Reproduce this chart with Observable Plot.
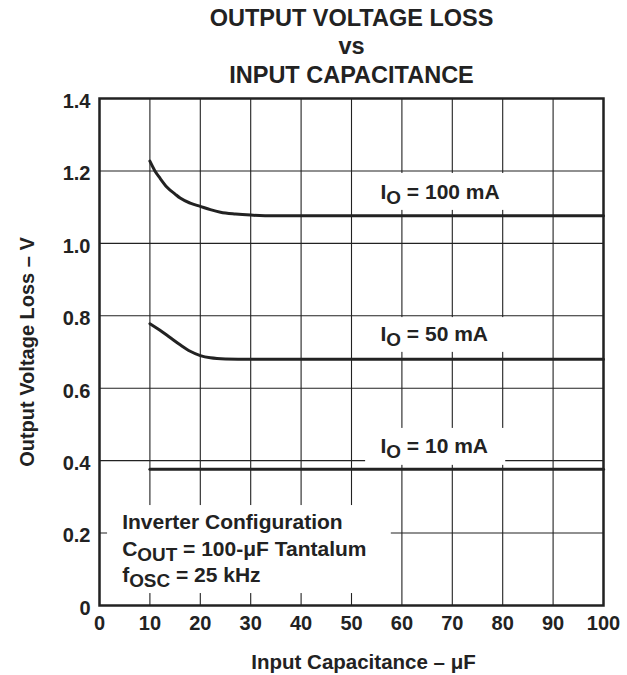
<!DOCTYPE html>
<html>
<head>
<meta charset="utf-8">
<script src="https://cdn.jsdelivr.net/npm/d3@7"></script>
<script src="https://cdn.jsdelivr.net/npm/@observablehq/plot@0.6"></script>
<style>
  html, body { margin: 0; padding: 0; background: #fff; }
  #chart svg { display: block; }
</style>
</head>
<body>
<div id="chart"></div>
<script>
// ---- Data ----
const titleLines = ["OUTPUT VOLTAGE LOSS", "vs", "INPUT CAPACITANCE"];
const xLabel = "Input Capacitance – μF";
const yLabel = "Output Voltage Loss – V";
const xTicks = [0, 10, 20, 30, 40, 50, 60, 70, 80, 90, 100];
const yTicks = [0, 0.2, 0.4, 0.6, 0.8, 1.0, 1.2, 1.4];

const cap100 = [10, 11, 12, 13.4, 15, 16, 18, 20, 22, 24, 27, 30, 35, 100];
const loss100 = [1.227, 1.200, 1.180, 1.155, 1.136, 1.125, 1.111, 1.102, 1.093, 1.086, 1.081, 1.078, 1.076, 1.076];

const cap50 = [10, 12, 14, 16, 18, 20, 22, 25, 30, 100];
const loss50 = [0.778, 0.760, 0.740, 0.720, 0.702, 0.690, 0.684, 0.681, 0.680, 0.680];

const cap10 = [10, 100];
const loss10 = [0.376, 0.376];

const seriesNames = ["100 mA", "50 mA", "10 mA"];
const curveLabels = ["I_{O} = 100 mA", "I_{O} = 50 mA", "I_{O} = 10 mA"];
const curveLabelX = [55.75, 55.75, 55.75];
const curveLabelY = [1.123, 0.730, 0.422];
// label backgrounds (data units)
const curveBoxX1 = [50.8, 50.8, 52.8];
const curveBoxX2 = [83.5, 83.5, 80.6];
const curveBoxY1 = [1.091, 0.699, 0.387];
const curveBoxY2 = [1.193, 0.795, 0.489];

const noteLines = ["Inverter Configuration", "C_{OUT} = 100-μF Tantalum", "f_{OSC} = 25 kHz"];
const noteX = 4.5;
const noteY = [0.2117, 0.138, 0.065];
const noteBox = {x1: 1.6, x2: 57.9, y1: 0.033, y2: 0.276};

// ---- Build tables ----
const curves = [
  ...cap100.map((c, i) => ({series: seriesNames[0], cap: c, loss: loss100[i]})),
  ...cap50.map((c, i) => ({series: seriesNames[1], cap: c, loss: loss50[i]})),
  ...cap10.map((c, i) => ({series: seriesNames[2], cap: c, loss: loss10[i]}))
];
const labels = curveLabels.map((t, i) => ({text: t, x: curveLabelX[i], y: curveLabelY[i]}));
const boxes = curveLabels.map((t, i) => ({x1: curveBoxX1[i], x2: curveBoxX2[i], y1: curveBoxY1[i], y2: curveBoxY2[i]}))
  .concat([noteBox]);
const notes = noteLines.map((t, i) => ({text: t, x: noteX, y: noteY[i]}));

const ink = "#222";
const font = "'Liberation Sans', Arial, Helvetica, sans-serif";

const chart = Plot.plot({
  width: 627,
  height: 675,
  marginLeft: 99,
  marginRight: 24,
  marginTop: 98,
  marginBottom: 70,
  style: {fontFamily: font, fontWeight: "bold", fontSize: "20px", color: ink, background: "#fff"},
  x: {domain: [0, 100], axis: null},
  y: {domain: [0, 1.4], axis: null},
  marks: [
    Plot.ruleX(xTicks, {stroke: ink, strokeWidth: 1.1}),
    Plot.ruleY(yTicks, {stroke: ink, strokeWidth: 1.1}),
    Plot.rect(boxes, {x1: "x1", x2: "x2", y1: "y1", y2: "y2", fill: "white"}),
    Plot.line(curves, {x: "cap", y: "loss", z: "series", stroke: ink, strokeWidth: 3, curve: "monotone-x"}),
    Plot.frame({stroke: ink, strokeWidth: 2.5}),
    // tick labels
    Plot.text(xTicks, {x: d => d, frameAnchor: "bottom", lineAnchor: "top", dy: 10, text: d => String(d), fill: ink, fontSize: 20}),
    Plot.text(yTicks, {y: d => d, frameAnchor: "left", textAnchor: "end", lineAnchor: "middle", dx: -9, dy: 3,
      text: d => d === 0 ? "0" : d.toFixed(1), fill: ink, fontSize: 20}),
    // axis labels
    Plot.text([xLabel], {frameAnchor: "bottom", textAnchor: "middle", lineAnchor: "bottom", dx: 12, dy: 63, text: d => d, fill: ink, fontSize: 20.5}),
    Plot.text([yLabel], {frameAnchor: "left", textAnchor: "middle", lineAnchor: "bottom", rotate: -90, dx: -66, text: d => d, fill: ink, fontSize: 20}),
    // title
    Plot.text([titleLines[0]], {frameAnchor: "top", lineAnchor: "bottom", dy: -73, text: d => d, fill: ink, fontSize: 23.5}),
    Plot.text([titleLines[1]], {frameAnchor: "top", lineAnchor: "bottom", dy: -44.7, text: d => d, fill: ink, fontSize: 23.5}),
    Plot.text([titleLines[2]], {frameAnchor: "top", lineAnchor: "bottom", dy: -15.3, text: d => d, fill: ink, fontSize: 23.5}),
    // annotations
    Plot.text(labels, {x: "x", y: "y", text: "text", textAnchor: "start", lineAnchor: "bottom", fill: ink, fontSize: 21}),
    Plot.text(notes, {x: "x", y: "y", text: "text", textAnchor: "start", lineAnchor: "bottom", fill: ink, fontSize: 21})
  ]
});

// subscripts: "A_{B}rest"
d3.select(chart).selectAll("text").each(function () {
  const s = this.textContent;
  const m = /^(.*?)_\{(.*?)\}(.*)$/.exec(s);
  if (!m) return;
  const el = d3.select(this);
  el.text(null);
  el.append("tspan").text(m[1]);
  el.append("tspan").attr("dy", 5).attr("font-size", "0.9em").text(m[2]);
  el.append("tspan").attr("dy", -5).text(m[3]);
});

document.getElementById("chart").appendChild(chart);
</script>
</body>
</html>
